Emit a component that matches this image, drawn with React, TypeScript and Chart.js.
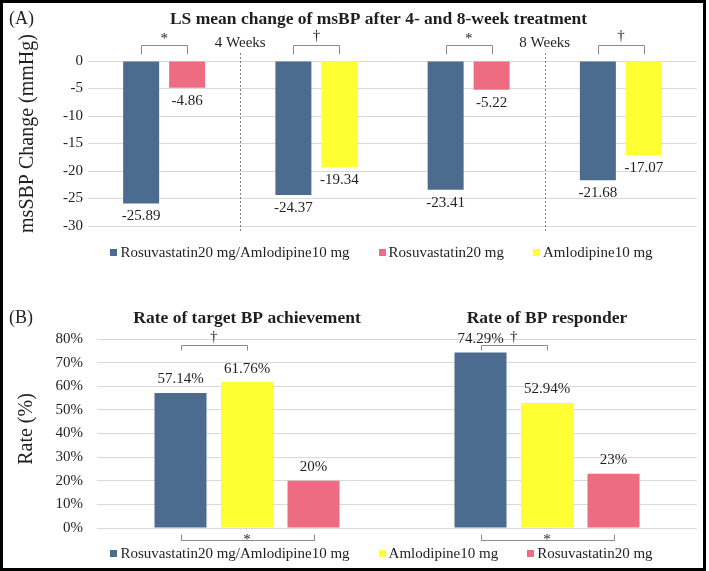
import React, { useEffect, useRef } from "react";
import { Chart, registerables } from "chart.js";

Chart.register(...registerables);

const FONT = '"Liberation Serif", "Times New Roman", serif';
const TEXT = "#1f1f1f";
const GRID = "#d9d9d9";
const BRACKET = "#8a8a8a";
const COLOR_COMBO = "#4b6b8f";
const COLOR_ROSU = "#ee6c81";
const COLOR_AMLO = "#ffff33";

const SERIES_COMBO = "Rosuvastatin20 mg/Amlodipine10 mg";
const SERIES_ROSU = "Rosuvastatin20 mg";
const SERIES_AMLO = "Amlodipine10 mg";

// ---------- Panel A data ----------
const panelATag = "(A)";
const panelATitle = "LS mean change of msBP after 4- and 8-week treatment";
const panelAAxisTitle = "msSBP Change (mmHg)";
const weekLabels = ["4 Weeks", "8 Weeks"];
const changeCategories = [
  "4 Weeks: vs Rosuvastatin",
  "4 Weeks: vs Amlodipine",
  "8 Weeks: vs Rosuvastatin",
  "8 Weeks: vs Amlodipine",
];
const changeCombo = [-25.89, -24.37, -23.41, -21.68];
const changeRosu = [-4.86, null, -5.22, null];
const changeAmlo = [null, -19.34, null, -17.07];
const changeSignificance = ["*", "†", "*", "†"];
const changeAxisMin = -30;
const changeAxisMax = 0;
const changeAxisStep = 5;

// ---------- Panel B data ----------
const panelBTag = "(B)";
const panelBAxisTitle = "Rate (%)";
const rateCategories = ["Rate of target BP achievement", "Rate of BP responder"];
const rateCombo = [57.14, 74.29];
const rateAmlo = [61.76, 52.94];
const rateRosu = [20, 23];
const rateSignifComboVsAmlo = ["†", "†"];
const rateSignifComboVsRosu = ["*", "*"];
const rateAxisMin = 0;
const rateAxisMax = 80;
const rateAxisStep = 10;

// ---------- drawing helpers ----------
function drawSymbol(ctx: CanvasRenderingContext2D, s: string, x: number, cy: number) {
  const fs = 15;
  ctx.font = `${fs}px ${FONT}`;
  ctx.fillStyle = TEXT;
  ctx.textAlign = "center";
  ctx.textBaseline = "alphabetic";
  const k = s === "*" ? 0.48 : 0.27;
  ctx.fillText(s, x, cy + k * fs);
}

function drawBracket(
  ctx: CanvasRenderingContext2D,
  x1: number,
  x2: number,
  yLine: number,
  yLeg: number,
  symbol: string,
  symbolY: number
) {
  ctx.save();
  ctx.strokeStyle = BRACKET;
  ctx.lineWidth = 1;
  ctx.setLineDash([]);
  const a = Math.round(x1) + 0.5;
  const b = Math.round(x2) + 0.5;
  const yl = Math.round(yLine) + 0.5;
  const yg = Math.round(yLeg) + 0.5;
  ctx.beginPath();
  ctx.moveTo(a, yg);
  ctx.lineTo(a, yl);
  ctx.lineTo(b, yl);
  ctx.lineTo(b, yg);
  ctx.stroke();
  drawSymbol(ctx, symbol, (x1 + x2) / 2, symbolY);
  ctx.restore();
}

function drawLegend(chart: any, cx: number, cy: number) {
  const ctx: CanvasRenderingContext2D = chart.ctx;
  ctx.save();
  ctx.font = `15px ${FONT}`;
  const items = chart.data.datasets.map((d: any) => ({ label: d.label, color: d.backgroundColor }));
  const box = 7;
  const boxGap = 3;
  const itemGap = 29;
  const widths = items.map((it: any) => ctx.measureText(it.label).width);
  const total =
    widths.reduce((s: number, w: number) => s + box + boxGap + w, 0) + itemGap * (items.length - 1);
  let x = cx - total / 2;
  items.forEach((it: any, i: number) => {
    ctx.fillStyle = it.color;
    ctx.fillRect(Math.round(x), Math.round(cy - box / 2), box, box);
    x += box + boxGap;
    ctx.fillStyle = TEXT;
    ctx.textAlign = "left";
    ctx.textBaseline = "middle";
    ctx.fillText(it.label, x, cy + 1);
    x += widths[i] + itemGap;
  });
  ctx.restore();
}

function drawRotated(ctx: CanvasRenderingContext2D, text: string, x: number, y: number, size: number) {
  ctx.save();
  ctx.translate(x, y);
  ctx.rotate(-Math.PI / 2);
  ctx.font = `${size}px ${FONT}`;
  ctx.fillStyle = TEXT;
  ctx.textAlign = "center";
  ctx.textBaseline = "middle";
  ctx.fillText(text, 0, 0);
  ctx.restore();
}

// ---------- Panel A annotations ----------
const annotA = {
  id: "annotA",
  afterDraw(chart: any) {
    const { ctx, chartArea, scales } = chart;
    const xs = scales.x;
    ctx.save();
    // tag + title
    ctx.fillStyle = TEXT;
    ctx.textBaseline = "middle";
    ctx.textAlign = "left";
    ctx.font = `18px ${FONT}`;
    ctx.fillText(panelATag, 9, 19);
    ctx.textAlign = "center";
    ctx.font = `bold 17.5px ${FONT}`;
    ctx.fillText(panelATitle, chart.width / 2 + 24, 19);
    // axis title
    drawRotated(ctx, panelAAxisTitle, 28, 133.5, 20);

    // data labels under bars
    ctx.font = `15px ${FONT}`;
    ctx.fillStyle = TEXT;
    ctx.textAlign = "center";
    ctx.textBaseline = "middle";
    chart.data.datasets.forEach((ds: any, di: number) => {
      const meta = chart.getDatasetMeta(di);
      meta.data.forEach((bar: any, i: number) => {
        const v = ds.data[i];
        if (v === null || v === undefined) return;
        ctx.fillText(v.toFixed(2), bar.x, bar.y + 13);
      });
    });

    // week separators and labels
    weekLabels.forEach((w, wi) => {
      const i0 = wi * 2;
      const x = (xs.getPixelForValue(i0) + xs.getPixelForValue(i0 + 1)) / 2;
      ctx.save();
      ctx.strokeStyle = "#7f7f7f";
      ctx.lineWidth = 1;
      ctx.setLineDash([2, 2]);
      ctx.beginPath();
      ctx.moveTo(Math.round(x) + 0.5, chartArea.top - 8);
      ctx.lineTo(Math.round(x) + 0.5, chartArea.bottom + 7);
      ctx.stroke();
      ctx.restore();
      ctx.font = `15px ${FONT}`;
      ctx.fillStyle = TEXT;
      ctx.textAlign = "center";
      ctx.textBaseline = "middle";
      ctx.fillText(w, x, chartArea.top - 18);
    });

    // significance brackets
    changeSignificance.forEach((s, i) => {
      const comboBar = chart.getDatasetMeta(0).data[i];
      const partnerIdx = changeRosu[i] !== null ? 1 : 2;
      const partnerBar = chart.getDatasetMeta(partnerIdx).data[i];
      drawBracket(ctx, comboBar.x, partnerBar.x, chartArea.top - 16.5, chartArea.top - 7.5, s, chartArea.top - 25.5);
    });

    // legend
    drawLegend(chart, chart.width / 2 + 27, 252);
    ctx.restore();
  },
};

// ---------- Panel B annotations ----------
const annotB = {
  id: "annotB",
  afterDraw(chart: any) {
    const { ctx, chartArea, scales } = chart;
    const xs = scales.x;
    ctx.save();
    ctx.fillStyle = TEXT;
    ctx.textBaseline = "middle";
    ctx.textAlign = "left";
    ctx.font = `18px ${FONT}`;
    ctx.fillText(panelBTag, 9, 33.5);
    ctx.textAlign = "center";
    ctx.font = `bold 17.5px ${FONT}`;
    rateCategories.forEach((c, i) => {
      ctx.fillText(c, xs.getPixelForValue(i), 33.5);
    });
    drawRotated(ctx, panelBAxisTitle, 27, 144, 20);

    // data labels above bars
    ctx.font = `15px ${FONT}`;
    ctx.fillStyle = TEXT;
    ctx.textAlign = "center";
    ctx.textBaseline = "middle";
    chart.data.datasets.forEach((ds: any, di: number) => {
      const meta = chart.getDatasetMeta(di);
      meta.data.forEach((bar: any, i: number) => {
        const v = ds.data[i];
        if (v === null || v === undefined) return;
        ctx.fillText(`${v}%`, bar.x, bar.y - 13.5);
      });
    });

    // brackets
    rateCategories.forEach((_, i) => {
      const combo = chart.getDatasetMeta(0).data[i];
      const amlo = chart.getDatasetMeta(1).data[i];
      const rosu = chart.getDatasetMeta(2).data[i];
      drawBracket(ctx, combo.x, amlo.x, chartArea.top + 6, chartArea.top + 11, rateSignifComboVsAmlo[i], chartArea.top - 2.5);
      drawBracket(ctx, combo.x, rosu.x, chartArea.bottom + 12, chartArea.bottom + 6, rateSignifComboVsRosu[i], chartArea.bottom + 8.5);
    });

    drawLegend(chart, chart.width / 2 + 27, 268);
    ctx.restore();
  },
};

function makeConfigA(): any {
  return {
    type: "bar",
    data: {
      labels: changeCategories,
      datasets: [
        { label: SERIES_COMBO, data: changeCombo, backgroundColor: COLOR_COMBO, skipNull: true },
        { label: SERIES_ROSU, data: changeRosu, backgroundColor: COLOR_ROSU, skipNull: true },
        { label: SERIES_AMLO, data: changeAmlo, backgroundColor: COLOR_AMLO, skipNull: true },
      ],
    },
    options: {
      responsive: false,
      animation: false,
      events: [],
      layout: { padding: { left: 0, right: 12, top: 61, bottom: 59 } },
      datasets: { bar: { categoryPercentage: 0.604, barPercentage: 0.783 } },
      plugins: { legend: { display: false }, title: { display: false }, tooltip: { enabled: false } },
      scales: {
        x: {
          offset: true,
          grid: { display: false, drawTicks: false },
          border: { display: false },
          ticks: { display: false },
          afterFit: (s: any) => {
            s.height = 0;
          },
        },
        y: {
          min: changeAxisMin,
          max: changeAxisMax,
          ticks: { stepSize: changeAxisStep, padding: 5, color: TEXT, font: { family: FONT, size: 15 } },
          grid: { color: GRID, drawTicks: false },
          border: { display: false },
          afterFit: (s: any) => {
            s.width = 88;
          },
        },
      },
    },
    plugins: [annotA],
  };
}

function makeConfigB(): any {
  return {
    type: "bar",
    data: {
      labels: rateCategories,
      datasets: [
        { label: SERIES_COMBO, data: rateCombo, backgroundColor: COLOR_COMBO },
        { label: SERIES_AMLO, data: rateAmlo, backgroundColor: COLOR_AMLO },
        { label: SERIES_ROSU, data: rateRosu, backgroundColor: COLOR_ROSU },
      ],
    },
    options: {
      responsive: false,
      animation: false,
      events: [],
      layout: { padding: { left: 0, right: 12, top: 54, bottom: 43 } },
      datasets: { bar: { categoryPercentage: 0.665, barPercentage: 0.782 } },
      plugins: { legend: { display: false }, title: { display: false }, tooltip: { enabled: false } },
      scales: {
        x: {
          offset: true,
          grid: { display: false, drawTicks: false },
          border: { display: false },
          ticks: { display: false },
          afterFit: (s: any) => {
            s.height = 0;
          },
        },
        y: {
          min: rateAxisMin,
          max: rateAxisMax,
          ticks: {
            stepSize: rateAxisStep,
            padding: 14,
            color: TEXT,
            font: { family: FONT, size: 15 },
            callback: (v: any) => `${v}%`,
          },
          grid: { color: GRID, drawTicks: false },
          border: { display: false },
          afterFit: (s: any) => {
            s.width = 97;
          },
        },
      },
    },
    plugins: [annotB],
  };
}

export default function App() {
  const refA = useRef<HTMLCanvasElement>(null);
  const refB = useRef<HTMLCanvasElement>(null);

  useEffect(() => {
    const a = new Chart(refA.current as HTMLCanvasElement, makeConfigA());
    const b = new Chart(refB.current as HTMLCanvasElement, makeConfigB());
    return () => {
      a.destroy();
      b.destroy();
    };
  }, []);

  return (
    <div style={{ position: "fixed", left: 0, top: 0, width: 709, height: 571, background: "#fff" }}>
      <canvas
        ref={refA}
        width={709}
        height={285}
        style={{ position: "absolute", left: 0, top: 0, width: 709, height: 285 }}
      />
      <canvas
        ref={refB}
        width={709}
        height={286}
        style={{ position: "absolute", left: 0, top: 285, width: 709, height: 286 }}
      />
      <div
        style={{
          position: "absolute",
          left: 0,
          top: 0,
          width: 706,
          height: 571,
          border: "3px solid #000",
          boxSizing: "border-box",
          pointerEvents: "none",
        }}
      />
    </div>
  );
}
